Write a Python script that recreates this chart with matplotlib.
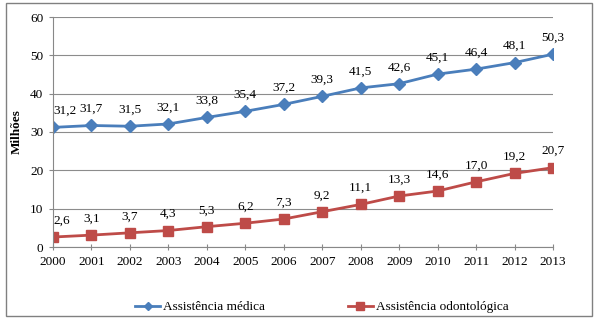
import matplotlib
matplotlib.use("Agg")
import matplotlib.pyplot as plt
from matplotlib.patches import Rectangle

years = [2000, 2001, 2002, 2003, 2004, 2005, 2006, 2007, 2008, 2009, 2010, 2011, 2012, 2013]
medica = [31.2, 31.7, 31.5, 32.1, 33.8, 35.4, 37.2, 39.3, 41.5, 42.6, 45.1, 46.4, 48.1, 50.3]
odonto = [2.6, 3.1, 3.7, 4.3, 5.3, 6.2, 7.3, 9.2, 11.1, 13.3, 14.6, 17.0, 19.2, 20.7]
series_names = ["Assistência médica", "Assistência odontológica"]
ylabel = "Milhões"

plt.rcParams['font.family'] = ['Liberation Serif', 'DejaVu Serif']
W, H = 605, 324
FS = 9.5
fig = plt.figure(figsize=(W/100, H/100), dpi=100)
ax = fig.add_axes([53/W, 1-247/H, (553-53)/W, (247-17)/H])

blue = "#4A7EBB"
red = "#BE4B48"
l1, = ax.plot(years, medica, color=blue, lw=2, marker='D', ms=6.5, label=series_names[0])
l2, = ax.plot(years, odonto, color=red, lw=2, marker='s', ms=7.5, label=series_names[1])

def fmt(v):
    return f"{v:.1f}".replace('.', ',')

for series in (medica, odonto):
    for i, (x, v) in enumerate(zip(years, series)):
        if i == 0:
            ax.annotate(fmt(v), (x, v), xytext=(0.5, 7.5), textcoords='offset points',
                        ha='left', va='bottom', fontsize=FS)
        else:
            ax.annotate(fmt(v), (x, v), xytext=(0, 7.5), textcoords='offset points',
                        ha='center', va='bottom', fontsize=FS)

ax.set_xlim(2000, 2013)
ax.set_ylim(0, 60)
ax.set_yticks(range(0, 61, 10))
ax.set_xticks(years)
ax.tick_params(labelsize=FS, length=3, color="#888888", pad=4)
ax.tick_params(axis='x', direction='inout', length=5)
ax.grid(axis='y', color="#8C8C8C", lw=0.8)
ax.set_axisbelow(True)
for s in ['top', 'right']:
    ax.spines[s].set_visible(False)
ax.spines['left'].set_color("#888888")
ax.spines['bottom'].set_color("#888888")
ax.set_ylabel(ylabel, fontsize=FS, fontweight='bold', labelpad=5)

fig.legend(handles=[l1, l2], loc='center left', bbox_to_anchor=(135/W, 1-307/H), ncol=2,
           frameon=False, fontsize=FS, columnspacing=6.3, handlelength=1.9,
           handletextpad=0.2, borderpad=0, borderaxespad=0, markerscale=0.7)

fig.patches.append(Rectangle((6/W, 1-316/H), (592-6)/W, (316-3)/H, transform=fig.transFigure,
                             fill=False, edgecolor="#808080", lw=1))

fig.savefig("out.png", dpi=100)
